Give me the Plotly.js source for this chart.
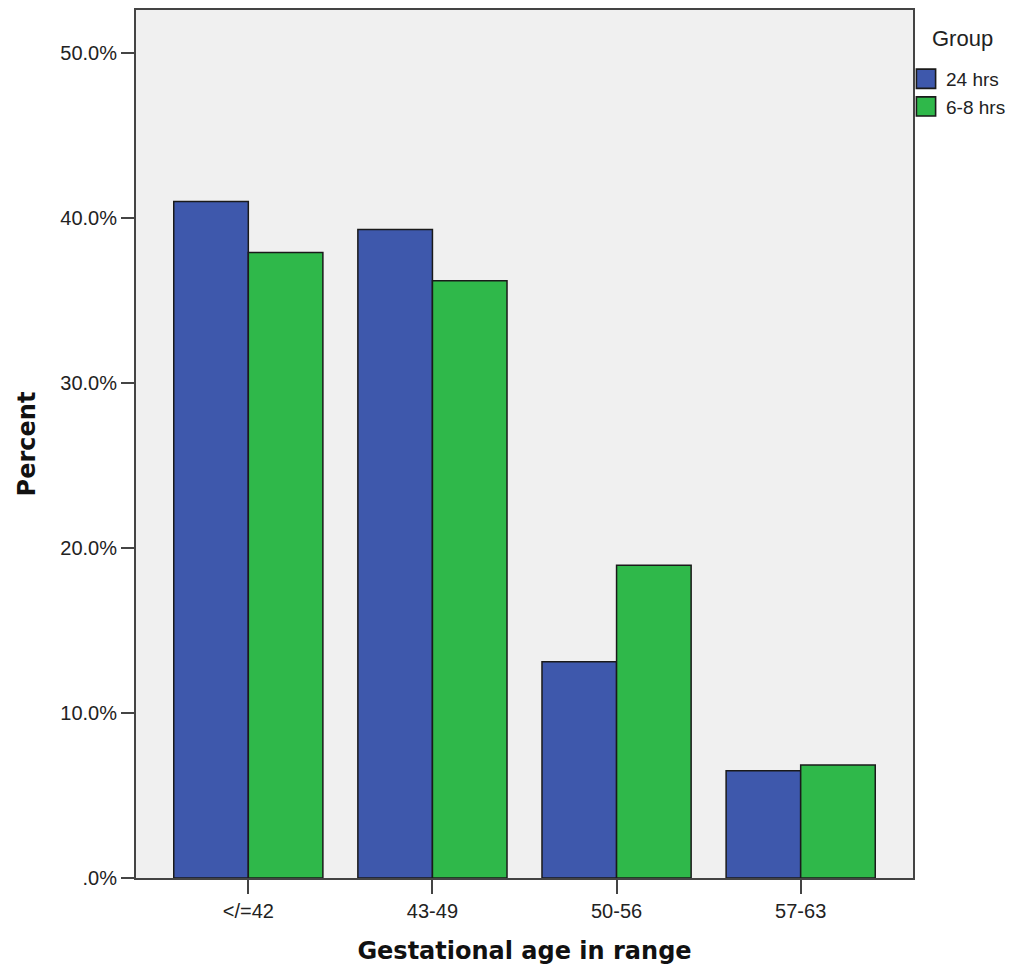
<!DOCTYPE html>
<html>
<head>
<meta charset="utf-8">
<script src="https://cdn.plot.ly/plotly-3.0.1.min.js"></script>
<style>html,body{margin:0;padding:0;background:#fff;}#chart{width:1017px;height:972px;}</style>
</head>
<body>
<div id="chart"></div>
<script>
const categories = ['</=42', '43-49', '50-56', '57-63'];
const series24 = [41.0, 39.3, 13.1, 6.5];
const series68 = [37.9, 36.2, 18.95, 6.85];
const seriesNames = ['24 hrs', '6-8 hrs'];
const legendTitle = 'Group';
const yTickVals = [0, 10, 20, 30, 40, 50];
const yTickText = ['.0%', '10.0%', '20.0%', '30.0%', '40.0%', '50.0%'];

const tickFont = 'Liberation Sans, Arial, sans-serif';
const titleFont = 'DejaVu Sans, Verdana, sans-serif';
const traces = [
  {type: 'bar', name: seriesNames[0], x: categories, y: series24, legendgroup: 'a',
   marker: {color: '#3e58ac', line: {color: '#1a1a1a', width: 1.5}}},
  {type: 'bar', name: seriesNames[1], x: categories, y: series68, legendgroup: 'b',
   marker: {color: '#2fb84a', line: {color: '#1a1a1a', width: 1.5}}}
];
const layout = {
  width: 1017, height: 972,
  margin: {l: 136, r: 104, t: 10, b: 94, autoexpand: false},
  paper_bgcolor: '#ffffff',
  plot_bgcolor: '#f0f0f0',
  barmode: 'group', bargap: 0.19, bargroupgap: 0,
  font: {family: tickFont, size: 20, color: '#222'},
  xaxis: {
    type: 'category', range: [-0.61, 3.61],
    showline: true, linecolor: '#444', linewidth: 2, mirror: true,
    ticks: 'outside', ticklen: 14, tickwidth: 2, tickcolor: '#444',
    showgrid: false, zeroline: false,
    tickfont: {family: tickFont, size: 20, color: '#222'},
    title: {text: 'Gestational age in range', font: {family: titleFont, size: 24, color: '#111', weight: 'bold'}, standoff: 21}
  },
  yaxis: {
    range: [0, 52.6],
    tickvals: yTickVals, ticktext: yTickText,
    showline: true, linecolor: '#444', linewidth: 2, mirror: true,
    ticks: 'outside', ticklen: 13, tickwidth: 2, tickcolor: '#444',
    showgrid: false, zeroline: false,
    tickfont: {family: tickFont, size: 20, color: '#222'},
    title: {text: 'Percent', font: {family: titleFont, size: 24, color: '#111', weight: 'bold'}, standoff: 18}
  },
  legend: {
    x: 0.991, xanchor: 'left', y: 0.9425, yanchor: 'top', xref: 'paper',
    font: {family: tickFont, size: 19, color: '#222'},
    bgcolor: 'rgba(0,0,0,0)', itemwidth: 30, tracegroupgap: 0
  },
  annotations: [{
    text: legendTitle, xref: 'paper', yref: 'paper', x: 1.0225, y: 0.9666,
    xanchor: 'left', yanchor: 'middle', showarrow: false,
    font: {family: tickFont, size: 22, color: '#222'}
  }],
  showlegend: true
};
Plotly.newPlot('chart', traces, layout, {displayModeBar: false, staticPlot: true}).then(function () {
  document.querySelectorAll('#chart .legend .legendpoints path').forEach(function (p) {
    const t = p.getAttribute('transform') || '';
    p.setAttribute('transform', t + ' scale(1.6)');
    p.style.strokeWidth = '1px';
  });
});
</script>
</body>
</html>
